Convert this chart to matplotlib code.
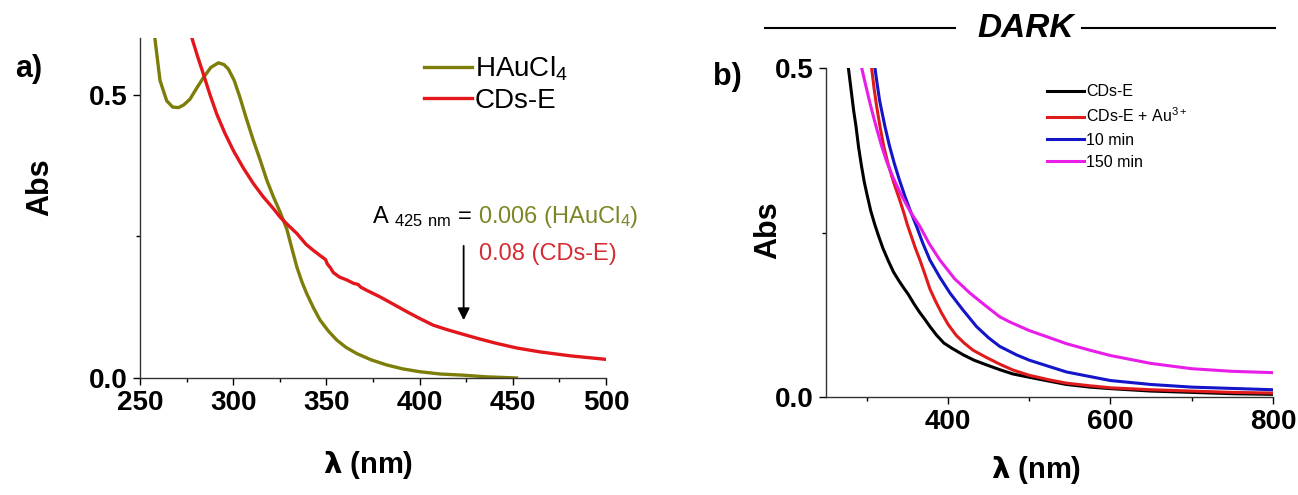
import numpy as np
import matplotlib
matplotlib.use('Agg')
import matplotlib.pyplot as plt
from matplotlib.lines import Line2D

plt.rcParams['font.family'] = ['Liberation Sans', 'DejaVu Sans']
plt.rcParams['mathtext.fontset'] = 'custom'
plt.rcParams['mathtext.rm'] = 'Liberation Sans'
plt.rcParams['mathtext.default'] = 'regular'

# panel a data
hau_wl = [258.0, 260.7, 264.3, 267.5, 270.6, 273.5, 276.8, 280.5, 284.0, 288.0, 292.0, 295.0, 297.4, 300.5,
          303.6, 307.0, 310.8, 314.5, 318.0, 321.5, 325.1, 328.7, 331.5, 334.1, 336.8, 339.4, 343.0, 346.6,
          351.0, 355.5, 360.5, 366.3, 374.0, 382.3, 391.0, 400.2, 411.0, 423.0, 436.0, 452.0]
hau_abs = [0.598, 0.525, 0.489, 0.478, 0.477, 0.482, 0.492, 0.512, 0.530, 0.548, 0.556, 0.553, 0.545, 0.525,
           0.495, 0.458, 0.419, 0.384, 0.349, 0.320, 0.293, 0.263, 0.228, 0.196, 0.170, 0.149, 0.124, 0.102,
           0.083, 0.067, 0.054, 0.043, 0.032, 0.023, 0.016, 0.011, 0.007, 0.005, 0.002, 0.0]

cds_wl = [277.7, 280.8, 284.0, 287.5, 291.1, 295.5, 300.1, 305.5, 310.8, 316.0, 321.5, 325.1, 328.7, 334.1,
          339.0, 343.0, 347.0, 349.5, 350.5, 352.0, 353.7, 357.0, 360.9, 364.5, 367.0, 368.5, 372.0, 378.8,
          386.0, 393.1, 400.0, 407.4, 415.0, 423.4, 432.0, 441.3, 452.0, 464.6, 481.0, 499.5]
cds_abs = [0.601, 0.568, 0.536, 0.500, 0.466, 0.432, 0.401, 0.370, 0.343, 0.320, 0.299, 0.284, 0.272, 0.255,
           0.236, 0.225, 0.215, 0.209, 0.201, 0.195, 0.186, 0.178, 0.173, 0.167, 0.165, 0.160, 0.154, 0.143,
           0.130, 0.117, 0.105, 0.093, 0.085, 0.077, 0.069, 0.061, 0.053, 0.046, 0.039, 0.033]

# panel b data
b_black_wl = [277.5, 281.0, 284.0, 286.9, 290.0, 293.5, 297.0, 300.0, 305.0, 310.0, 314.3, 320.0, 326.6, 333.0,
              340.0, 346.0, 351.2, 358.0, 365.0, 371.0, 377.9, 386.0, 395.0, 405.0, 418.9, 432.0, 447.0, 465.0,
              480.0, 500.0, 525.0, 546.0, 575.0, 600.0, 650.0, 700.0, 750.0, 800.0]
b_black_abs = [0.5, 0.465, 0.435, 0.411, 0.380, 0.352, 0.327, 0.310, 0.283, 0.262, 0.246, 0.226, 0.207, 0.190,
               0.176, 0.165, 0.156, 0.142, 0.129, 0.119, 0.107, 0.094, 0.082, 0.074, 0.064, 0.056, 0.049, 0.041,
               0.035, 0.030, 0.024, 0.019, 0.015, 0.0127, 0.009, 0.007, 0.005, 0.004]

b_red_wl = [306.1, 309.0, 312.0, 316.4, 321.0, 326.6, 333.0, 341.0, 346.0, 350.0, 355.0, 360.0, 365.6, 371.0,
            377.9, 385.0, 392.0, 400.4, 410.0, 420.0, 431.0, 447.5, 463.6, 480.0, 500.0, 525.0, 546.0, 575.0,
            600.0, 650.0, 700.0, 750.0, 800.0]
b_red_abs = [0.5, 0.470, 0.444, 0.411, 0.381, 0.353, 0.327, 0.298, 0.279, 0.262, 0.244, 0.226, 0.208, 0.189,
             0.164, 0.145, 0.128, 0.110, 0.094, 0.082, 0.071, 0.060, 0.050, 0.041, 0.033, 0.026, 0.021, 0.017,
             0.014, 0.011, 0.009, 0.007, 0.006]

b_blue_wl = [310.2, 313.0, 316.0, 322.5, 328.0, 334.0, 340.0, 347.1, 354.0, 361.5, 369.0, 377.9, 390.0, 402.5,
             418.0, 435.2, 450.0, 463.6, 484.4, 500.0, 525.4, 546.0, 575.0, 600.0, 650.0, 700.0, 750.0, 800.0]
b_blue_abs = [0.5, 0.475, 0.450, 0.411, 0.382, 0.355, 0.331, 0.305, 0.282, 0.259, 0.234, 0.208, 0.182, 0.158,
              0.133, 0.107, 0.090, 0.077, 0.064, 0.056, 0.046, 0.038, 0.031, 0.025, 0.019, 0.015, 0.013, 0.011]

b_mag_wl = [293.9, 298.0, 303.0, 307.5, 312.3, 318.0, 324.6, 333.0, 343.0, 354.0, 365.6, 377.0, 390.2, 408.0,
            427.0, 445.0, 463.6, 476.2, 500.0, 525.4, 546.0, 575.0, 600.0, 625.0, 650.0, 675.0, 700.0, 750.0, 800.0]
b_mag_abs = [0.5, 0.478, 0.452, 0.430, 0.408, 0.383, 0.358, 0.332, 0.306, 0.281, 0.259, 0.233, 0.208, 0.180,
             0.158, 0.140, 0.122, 0.114, 0.101, 0.090, 0.081, 0.071, 0.063, 0.057, 0.051, 0.047, 0.043, 0.039, 0.037]

OLIVE = '#7d7d0a'
RED_A = '#e3161c'

fig = plt.figure(figsize=(12.98, 4.95), dpi=100)

# ---------------- panel a
ax1 = fig.add_axes([0.1079, 0.2364, 0.359, 0.687])
ax1.plot(hau_wl, hau_abs, color=OLIVE, lw=2.4, label=r'HAuCl$_4$', solid_joinstyle='round')
ax1.plot(cds_wl, cds_abs, color=RED_A, lw=2.4, label='CDs-E', solid_joinstyle='round')
ax1.set_xlim(250, 500)
ax1.set_ylim(0, 0.6)
ax1.set_xticks([250, 300, 350, 400, 450, 500])
ax1.set_xticks(np.arange(275, 500, 50), minor=True)
ax1.set_yticks([0.0, 0.5])
ax1.set_yticks([0.25], minor=True)
ax1.yaxis.set_major_formatter(matplotlib.ticker.FormatStrFormatter('%.1f'))

ax1.annotate('', xy=(423.6, 0.097), xytext=(423.6, 0.238),
             arrowprops=dict(arrowstyle='-|>', color='black', lw=1.3, mutation_scale=18))
ax1.text(428.8, 0.284, r'A $_{425\ nm}$ = ', fontsize=17, color='black', va='center', ha='right')
ax1.text(431.3, 0.284, r'0.006 (HAuCl$_4$)', fontsize=17, color='#7f8526', va='center', ha='left')
ax1.text(431.8, 0.219, '0.08 (CDs-E)', fontsize=17, color='#d42e34', va='center', ha='left')

ax1.legend(loc='upper left', bbox_to_anchor=(0.61, 0.95), frameon=False, fontsize=20,
           handlelength=1.7, handletextpad=0.12, labelspacing=0.15, borderpad=0, borderaxespad=0)

ax1.set_ylabel('Abs', fontsize=22, fontweight='bold')
ax1.set_xlabel(r'$\mathbf{\lambda}$ (nm)', fontsize=21, fontweight='bold')
ax1.yaxis.set_label_coords(-0.215, 0.56)
ax1.xaxis.set_label_coords(0.49, -0.256)
ax1.xaxis.label.set_va('center')
ax1.yaxis.label.set_va('center')

# ---------------- panel b
ax2 = fig.add_axes([0.6364, 0.198, 0.3443, 0.6646])
ax2.plot(b_black_wl, b_black_abs, color='black', lw=2.2, label='CDs-E')
ax2.plot(b_red_wl, b_red_abs, color='#e01b1b', lw=2.2, label=r'CDs-E + Au$^{3+}$')
ax2.plot(b_blue_wl, b_blue_abs, color='#1414c8', lw=2.2, label='10 min')
ax2.plot(b_mag_wl, b_mag_abs, color='#e81ee8', lw=2.2, label='150 min')
ax2.set_xlim(250, 800)
ax2.set_ylim(0, 0.5)
ax2.set_xticks([400, 600, 800])
ax2.set_xticks([300, 500, 700], minor=True)
ax2.set_yticks([0.0, 0.5])
ax2.set_yticks([0.25], minor=True)
ax2.yaxis.set_major_formatter(matplotlib.ticker.FormatStrFormatter('%.1f'))

ax2.legend(loc='upper left', bbox_to_anchor=(0.495, 0.95), frameon=False, fontsize=11.5,
           handlelength=2.3, handletextpad=0.15, labelspacing=0.45, borderpad=0, borderaxespad=0)

ax2.set_ylabel('Abs', fontsize=22, fontweight='bold')
ax2.set_xlabel(r'$\mathbf{\lambda}$ (nm)', fontsize=21, fontweight='bold')
ax2.yaxis.set_label_coords(-0.13, 0.508)
ax2.xaxis.set_label_coords(0.47, -0.222)
ax2.xaxis.label.set_va('center')
ax2.yaxis.label.set_va('center')

for ax in (ax1, ax2):
    ax.spines['top'].set_visible(False)
    ax.spines['right'].set_visible(False)
    for s in ('left', 'bottom'):
        ax.spines[s].set_linewidth(1.0)
        ax.spines[s].set_color('#333333')
    ax.tick_params(which='major', direction='out', length=5, width=1, labelsize=20, pad=4)
    ax.tick_params(which='minor', direction='out', length=3, width=1)
    for lab in ax.get_xticklabels() + ax.get_yticklabels():
        lab.set_fontweight('bold')

# panel letters and header
fig.text(0.012, 0.86, 'a)', fontsize=22, fontweight='bold', va='center')
fig.text(0.549, 0.845, 'b)', fontsize=22, fontweight='bold', va='center')
fig.text(0.79, 0.943, 'DARK', fontsize=24, fontweight='bold', style='italic', ha='center', va='center')
fig.add_artist(Line2D([765 / 1298, 955 / 1298], [0.943, 0.943], color='black', lw=1.5))
fig.add_artist(Line2D([1082 / 1298, 1275 / 1298], [0.943, 0.943], color='black', lw=1.5))

fig.savefig('out.png', dpi=100)
